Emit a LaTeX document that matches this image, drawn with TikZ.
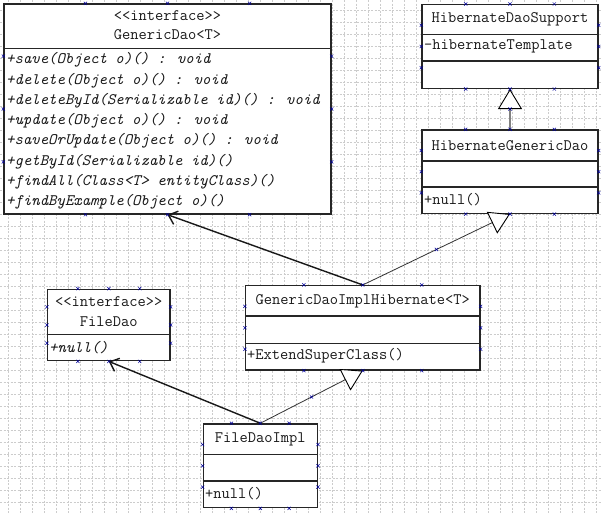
\documentclass[tikz,border=0pt]{standalone}
\usepackage{tikz}
\usetikzlibrary{calc,arrows.meta}

\begin{document}
\begin{tikzpicture}[
  x=1pt,y=-1pt,
  gridline/.style={gray!40,line width=0.6pt,dash pattern=on 2pt off 1.5pt},
  umlclass/.style={rectangle,draw=black!85,line width=1.4pt,fill=white,inner sep=0pt},
  sepline/.style={draw=black!85,line width=1.4pt},
  title/.style={inner sep=0pt,font=\fontsize{16}{20}\ttfamily,text=black!90},
  member/.style={inner sep=0pt,anchor=west,font=\fontsize{16}{20}\ttfamily,text=black!90},
  abstract/.style={member,font=\fontsize{16}{20}\ttfamily\itshape},
  assoc/.style={line width=1.4pt,black!90,-{Straight Barb[length=8pt,width=14pt]}},
  inherit/.style={line width=0.8pt,black!80,-{Triangle[open,length=20pt,width=24pt,fill=white,line width=0.9pt,color=black]}},
  handle/.pic={\draw[blue!60!black,line width=0.5pt] (-1.6,-1.6) -- (1.6,1.6) (-1.6,1.6) -- (1.6,-1.6);}
]

\fill[white] (0,0) rectangle (602,514);
\useasboundingbox (0,0) rectangle (602,514);

% background grid
\foreach \k in {0,...,49}
  \draw[gridline] ({8.5+12*\k},0) -- ({8.5+12*\k},514);
\foreach \k in {0,...,41}
  \draw[gridline] (0,{10.3+12*\k}) -- (602,{10.3+12*\k});

% classes
\node[umlclass,minimum width=327,minimum height=210] (gdao) at (167.5,109) {};
\draw[sepline] ($(gdao.north west)+(0,45)$) -- ($(gdao.north east)+(0,45)$);
\node[title] (gdaost) at (167.5,16) {<{}<interface>{}>};
\node[title] (gdaoname) at (167.5,35) {GenericDao<T>};
\foreach \m [count=\i from 0] in {+save(Object o)() : void,
    +delete(Object o)() : void,
    +deleteById(Serializable id)() : void,
    +update(Object o)() : void,
    +saveOrUpdate(Object o)() : void,
    +getById(Serializable id)(),
    +findAll(Class<T> entityClass)(),
    +findByExample(Object o)()}
  \node[abstract] (gdaom\i) at (6,{60+20.3*\i}) {\m};

\node[umlclass,minimum width=176,minimum height=83.6] (hsupport) at (510,46.5) {};
\draw[sepline] ($(hsupport.north west)+(0,30.3)$) -- ($(hsupport.north east)+(0,30.3)$);
\draw[sepline] ($(hsupport.north west)+(0,57)$) -- ($(hsupport.north east)+(0,57)$);
\node[title] (hsupportname) at (510,19) {HibernateDaoSupport};
\node[member] (hsupporta) at (424,46.7) {-hibernateTemplate};

\node[umlclass,minimum width=176,minimum height=83.3] (hgeneric) at (510,171.7) {};
\draw[sepline] ($(hgeneric.north west)+(0,31.7)$) -- ($(hgeneric.north east)+(0,31.7)$);
\draw[sepline] ($(hgeneric.north west)+(0,57.7)$) -- ($(hgeneric.north east)+(0,57.7)$);
\node[title] (hgenericname) at (510,145.7) {HibernateGenericDao};
\node[member] (hgenericm) at (424,200) {+null()};

\node[umlclass,minimum width=234.3,minimum height=84.3] (gimpl) at (362.8,327.8) {};
\draw[sepline] ($(gimpl.north west)+(0,31)$) -- ($(gimpl.north east)+(0,31)$);
\draw[sepline] ($(gimpl.north west)+(0,58.3)$) -- ($(gimpl.north east)+(0,58.3)$);
\node[title] (gimplname) at (362.8,301.7) {GenericDaoImplHibernate<T>};
\node[member] (gimplm) at (247,356) {+ExtendSuperClass()};

\node[umlclass,minimum width=122.3,minimum height=71.4] (fdao) at (108.8,325) {};
\draw[sepline] ($(fdao.north west)+(0,45.7)$) -- ($(fdao.north east)+(0,45.7)$);
\node[title] (fdaost) at (108.8,301.7) {<{}<interface>{}>};
\node[title] (fdaoname) at (108.8,321.7) {FileDao};
\node[abstract] (fdaom) at (49,347.3) {+null()};

\node[umlclass,minimum width=114,minimum height=83.7] (fimpl) at (260.3,465.8) {};
\draw[sepline] ($(fimpl.north west)+(0,31)$) -- ($(fimpl.north east)+(0,31)$);
\draw[sepline] ($(fimpl.north west)+(0,57.7)$) -- ($(fimpl.north east)+(0,57.7)$);
\node[title] (fimplname) at (260.3,439) {FileDaoImpl};
\node[member] (fimplm) at (205,493.3) {+null()};

% relations
\draw[assoc] (gimpl.north) -- (gdao.south);
\draw[assoc] (fimpl.north) -- (fdao.south);
\draw[inherit] (gimpl.north) -- (hgeneric.south);
\draw[inherit] (fimpl.north) -- (gimpl.south);
\draw[inherit,gray,line width=1.6pt] (hgeneric.north) -- (hsupport.south);

% selection handles
\foreach \b in {gdao,hsupport,hgeneric,gimpl,fdao,fimpl}
  \foreach \t in {0.25,0.5,0.75} {
    \pic at ($(\b.north west)!\t!(\b.north east)$) {handle};
    \pic at ($(\b.south west)!\t!(\b.south east)$) {handle};
    \pic at ($(\b.north west)!\t!(\b.south west)$) {handle};
    \pic at ($(\b.north east)!\t!(\b.south east)$) {handle};
  }
\pic at ($(gimpl.north)!0.5!(hgeneric.south)$) {handle};
\pic at ($(fimpl.north)!0.5!(gimpl.south)$) {handle};
\pic at ($(hsupport.south)+(0,20)$) {handle};

\end{tikzpicture}
\end{document}
